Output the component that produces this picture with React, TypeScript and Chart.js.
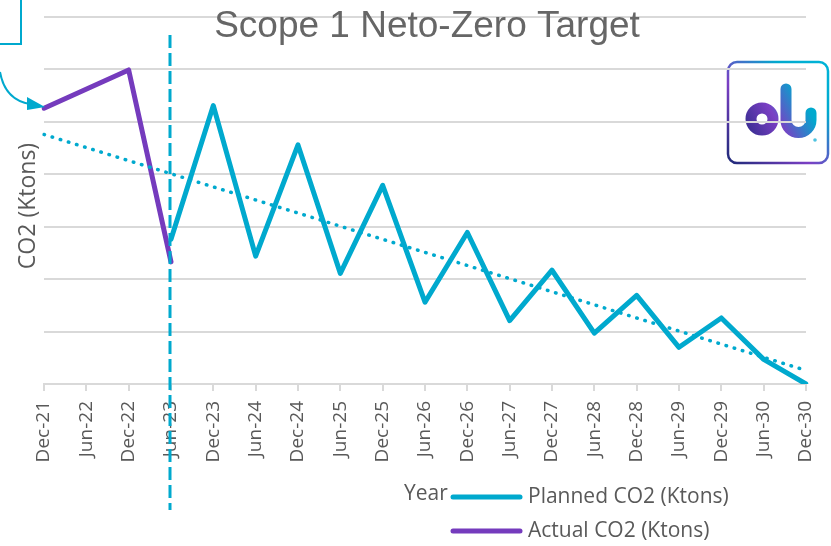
import React, { useEffect, useRef } from "react";
import { Chart, registerables } from "chart.js";

Chart.register(...registerables);

const categories = [
  "Dec-21", "Jun-22", "Dec-22", "Jun-23", "Dec-23", "Jun-24", "Dec-24",
  "Jun-25", "Dec-25", "Jun-26", "Dec-26", "Jun-27", "Dec-27", "Jun-28",
  "Dec-28", "Jun-29", "Dec-29", "Jun-30", "Dec-30",
];
const plannedCO2 = [
  null, null, null, 2.76, 5.31, 2.44, 4.56, 2.11, 3.79, 1.56, 2.89, 1.21,
  2.17, 0.97, 1.69, 0.7, 1.26, 0.47, 0.0,
];
const actualCO2 = [
  5.26, null, 5.99, 2.33, null, null, null, null, null, null, null, null,
  null, null, null, null, null, null, null,
];
const trendCO2 = [
  4.76, null, null, null, null, null, null, null, null, null, null, null,
  null, null, null, null, null, null, 0.26,
];
const markerCategory = "Jun-23";
const chartTitle = "Scope 1 Neto-Zero Target";
const yTitle = "CO2 (Ktons)";
const xTitle = "Year";
const plannedLabel = "Planned CO2 (Ktons)";
const actualLabel = "Actual CO2 (Ktons)";

const CYAN = "#00A9CE";
const PURPLE = "#753BBD";
const GRAY_TEXT = "#595959";
const GRID = "#D9D9D9";

const decorPlugin = {
  id: "decor",
  beforeDraw(chart: any) {
    const ctx = chart.ctx;
    ctx.save();
    // logo
    const x0 = 728, y0 = 62, w = 100, h = 101, r = 9;
    const g = ctx.createLinearGradient(x0, y0 + h, x0 + w, y0);
    g.addColorStop(0, "#1E2A78");
    g.addColorStop(0.4, "#7B3FC4");
    g.addColorStop(0.75, "#00A9CE");
    g.addColorStop(1, "#00B4D8");
    ctx.lineWidth = 2.5;
    ctx.strokeStyle = g;
    ctx.beginPath();
    ctx.roundRect(x0, y0, w, h, r);
    ctx.stroke();
    const gg = ctx.createLinearGradient(742, 136, 815, 95);
    gg.addColorStop(0, "#2A2A86");
    gg.addColorStop(0.45, "#7B3FC4");
    gg.addColorStop(0.85, "#00A9CE");
    ctx.strokeStyle = gg;
    ctx.lineWidth = 11;
    ctx.lineCap = "round";
    ctx.beginPath();
    ctx.arc(762, 119, 11, 0, Math.PI * 2);
    ctx.stroke();
    ctx.beginPath();
    ctx.moveTo(786, 89);
    ctx.lineTo(786, 120);
    ctx.arc(798.5, 120, 12.5, Math.PI, 0, true);
    ctx.lineTo(811, 113);
    ctx.stroke();
    ctx.fillStyle = "#4FC3E0";
    ctx.beginPath();
    ctx.arc(815, 140, 1.8, 0, Math.PI * 2);
    ctx.fill();
    ctx.restore();
  },
  afterDraw(chart: any) {
    const ctx = chart.ctx;
    const xs = chart.scales.x;
    ctx.save();
    // top-left box and arrow
    ctx.strokeStyle = CYAN;
    ctx.lineWidth = 2;
    ctx.strokeRect(-10, -10, 31, 54);
    ctx.beginPath();
    ctx.moveTo(0, 72);
    ctx.quadraticCurveTo(5, 100, 30, 104);
    ctx.stroke();
    ctx.fillStyle = CYAN;
    ctx.beginPath();
    ctx.moveTo(45, 107);
    ctx.lineTo(27, 97);
    ctx.lineTo(27, 110);
    ctx.closePath();
    ctx.fill();

    // chart title
    ctx.fillStyle = "#666666";
    ctx.font = "37px 'Liberation Sans', Arial, sans-serif";
    ctx.textAlign = "center";
    ctx.textBaseline = "alphabetic";
    ctx.fillText(chartTitle, 427, 37);

    // y title
    ctx.save();
    ctx.translate(28, 206);
    ctx.rotate(-Math.PI / 2);
    ctx.font = "23px 'Open Sans', sans-serif";
    ctx.fillStyle = GRAY_TEXT;
    ctx.textBaseline = "middle";
    ctx.fillText(yTitle, 0, 0);
    ctx.restore();

    // x title
    ctx.font = "21px 'Open Sans', sans-serif";
    ctx.fillStyle = GRAY_TEXT;
    ctx.textAlign = "left";
    ctx.textBaseline = "middle";
    ctx.fillText(xTitle, 404, 494);

    // legend
    const items = [
      { label: plannedLabel, color: CYAN, y: 497 },
      { label: actualLabel, color: PURPLE, y: 531 },
    ];
    for (const it of items) {
      ctx.strokeStyle = it.color;
      ctx.lineWidth = 5;
      ctx.lineCap = "round";
      ctx.beginPath();
      ctx.moveTo(453, it.y);
      ctx.lineTo(520, it.y);
      ctx.stroke();
      ctx.fillStyle = GRAY_TEXT;
      ctx.fillText(it.label, 528, it.y);
    }

    // vertical dashed marker
    const mx = xs.getPixelForValue(categories.indexOf(markerCategory)) - 1;
    ctx.strokeStyle = CYAN;
    ctx.lineWidth = 3;
    ctx.lineCap = "butt";
    ctx.setLineDash([13, 5]);
    ctx.beginPath();
    ctx.moveTo(mx, 35);
    ctx.lineTo(mx, 510);
    ctx.stroke();
    ctx.restore();
  },
};

export default function App() {
  const ref = useRef<HTMLCanvasElement>(null);
  useEffect(() => {
    if (!ref.current) return;
    const chart = new Chart(ref.current, {
      type: "line",
      data: {
        labels: categories,
        datasets: [
          {
            label: "Trend",
            data: trendCO2,
            borderColor: CYAN,
            borderWidth: 3.5,
            borderDash: [0.5, 8],
            borderCapStyle: "round",
            spanGaps: true,
            pointRadius: 0,
            tension: 0,
          },
          {
            label: plannedLabel,
            data: plannedCO2,
            borderColor: CYAN,
            borderWidth: 5,
            borderJoinStyle: "round",
            borderCapStyle: "round",
            pointRadius: 0,
            tension: 0,
          },
          {
            label: actualLabel,
            data: actualCO2,
            borderColor: PURPLE,
            borderWidth: 5,
            borderJoinStyle: "round",
            borderCapStyle: "round",
            spanGaps: true,
            pointRadius: 0,
            tension: 0,
          },
        ],
      },
      options: {
        responsive: false,
        animation: false,
        layout: { padding: { top: 17, right: 25, left: 0, bottom: 0 } },
        plugins: {
          legend: { display: false },
          title: { display: false },
          tooltip: { enabled: false },
        },
        scales: {
          x: {
            offset: false,
            afterFit: (s: any) => {
              s.height = 162;
              s.paddingLeft = 0;
              s.paddingRight = 0;
            },
            grid: {
              drawOnChartArea: false,
              drawTicks: true,
              tickLength: 7,
              color: GRID,
              lineWidth: 2,
            },
            border: { color: GRID, width: 2 },
            ticks: {
              minRotation: 90,
              maxRotation: 90,
              autoSkip: false,
              padding: 10,
              color: GRAY_TEXT,
              font: { family: "'Open Sans', sans-serif", size: 19 },
            },
          },
          y: {
            min: 0,
            max: 7,
            afterFit: (s: any) => {
              s.width = 44;
              s.paddingTop = 0;
              s.paddingBottom = 0;
            },
            ticks: { display: false, stepSize: 1 },
            grid: { color: GRID, lineWidth: 2, drawTicks: false },
            border: { display: false },
          },
        },
      },
      plugins: [decorPlugin],
    } as any);
    return () => chart.destroy();
  }, []);
  return (
    <div style={{ position: "absolute", left: 0, top: 0, width: 831, height: 546, background: "#fff" }}>
      <canvas ref={ref} width={831} height={546} style={{ display: "block" }} />
    </div>
  );
}
